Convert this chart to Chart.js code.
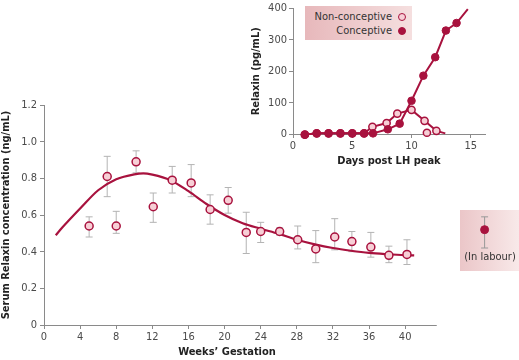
<!DOCTYPE html>
<html>
<head>
<meta charset="utf-8">
<script src="https://cdn.jsdelivr.net/npm/chart.js@4.4.0/dist/chart.umd.min.js"></script>
<style>
  body { margin: 0; background: #fff; }
  .wrap { position: relative; width: 519px; height: 360px; font-family: 'Liberation Sans Narrow', 'DejaVu Sans Condensed', 'Open Sans', sans-serif; color: #333; }
  canvas { position: absolute; }
  .labour-box { position: absolute; left: 460px; top: 210px; width: 59px; height: 61px; background: linear-gradient(to right, #ebc6c8, #f8e9e9); }
  .labour-text { position: absolute; left: 460px; top: 250px; width: 60px; text-align: center; font-size: 11px; }
  .xtitle { position: absolute; left: 167px; top: 345px; width: 120px; text-align: center; font-size: 11px; font-weight: bold; color: #222; }
  .legend { position: absolute; left: 305px; top: 6px; width: 107px; height: 34px; background: linear-gradient(to right, #e7b8bb, #f5dfdf); font-size: 11px; }
  .legend div { position: absolute; right: 6px; height: 14px; line-height: 14px; }
  .dot { display: inline-block; width: 6px; height: 6px; border-radius: 50%; border: 1.5px solid #a8123e; margin-left: 6px; vertical-align: -1px; }
</style>
</head>
<body>
<div class="wrap">
  <div class="labour-box"></div>
  <canvas id="main" width="519" height="360"></canvas>
  <div class="labour-text">(In labour)</div>
  <div class="xtitle">Weeks’ Gestation</div>
  <canvas id="inset" width="271" height="170" style="left:248px;top:0"></canvas>
  <div class="legend">
    <div style="top:4px">Non-conceptive<span class="dot" style="background:#f7cfd6"></span></div>
    <div style="top:18px">Conceptive<span class="dot" style="background:#a8123e"></span></div>
  </div>
</div>
<script>
// main panel: serum relaxin by week of gestation
const weeks = [5, 7, 8, 10.2, 12.1, 14.2, 16.3, 18.4, 20.4, 22.4, 24, 26.1, 28.1, 30.1, 32.2, 34.1, 36.2, 38.2, 40.2];
const relaxin = [0.54, 0.81, 0.54, 0.89, 0.645, 0.79, 0.775, 0.63, 0.68, 0.505, 0.51, 0.51, 0.465, 0.415, 0.48, 0.455, 0.425, 0.38, 0.385];
const errHigh = [0.59, 0.92, 0.62, 0.95, 0.72, 0.865, 0.875, 0.71, 0.75, 0.615, 0.56, 0.53, 0.54, 0.515, 0.58, 0.51, 0.505, 0.43, 0.465];
const errLow = [0.48, 0.70, 0.50, 0.83, 0.56, 0.72, 0.70, 0.55, 0.61, 0.39, 0.45, 0.49, 0.415, 0.34, 0.41, 0.40, 0.37, 0.34, 0.33];
const curveWeeks = [1.3, 2, 4, 6, 8, 10, 11, 12, 14, 16, 18, 20, 22, 24, 26, 28, 30, 32, 34, 36, 38, 40, 41];
const curveValues = [0.49, 0.53, 0.635, 0.735, 0.795, 0.822, 0.827, 0.82, 0.79, 0.73, 0.66, 0.60, 0.555, 0.525, 0.497, 0.465, 0.44, 0.42, 0.405, 0.393, 0.386, 0.381, 0.38];
const labourWeek = [48.8];
const labourValue = [0.52];
const labourHigh = [0.59];
const labourLow = [0.42];
const weekTicks = [0, 4, 8, 12, 16, 20, 24, 28, 32, 36, 40];
const weekAxisEnd = 43.5;

// inset: relaxin after LH peak
const concDays = [1, 2, 3, 4, 5, 6, 6.75, 8, 9, 10, 11, 12, 12.9, 13.8, 14.75];
const concValues = [-2, 2, 2, 2, 2, 2, 2, 15, 33, 106, 186, 245, 330, 354, 398];
const nonDays = [1, 2, 3, 4, 5, 6, 6.7, 7.9, 8.8, 10, 11.1, 12.1, 12.85];
const nonValues = [-2, 2, 2, 2, 2, 2, 23, 35, 65, 77, 42, 10, 2];
const nonExtraDays = [11.3];
const nonExtraValues = [4];

const crimson = '#a8123e';
const pink = '#f7cfd6';
const axisGrey = '#8a8a8a';
const textGrey = '#4a4a4a';

Chart.defaults.font.family = "'Liberation Sans Narrow', 'DejaVu Sans Condensed', 'Open Sans', sans-serif";
Chart.defaults.font.size = 11;
Chart.defaults.color = textGrey;

const pts = (xs, ys) => xs.map((v, i) => ({x: v, y: ys[i]}));

const errorBars = {
  id: 'errorBars',
  beforeDatasetsDraw(chart) {
    const {ctx, scales: {x, y}} = chart;
    chart.data.datasets.forEach(ds => {
      if (!ds.errLow) return;
      ds.data.forEach((p, i) => {
        const px = x.getPixelForValue(p.x);
        const yl = y.getPixelForValue(ds.errLow[i]);
        const yh = y.getPixelForValue(ds.errHigh[i]);
        ctx.save();
        ctx.strokeStyle = ds.errColor;
        ctx.lineWidth = 1;
        ctx.beginPath();
        ctx.moveTo(px, yl); ctx.lineTo(px, yh);
        ctx.moveTo(px - 3.5, yl); ctx.lineTo(px + 3.5, yl);
        ctx.moveTo(px - 3.5, yh); ctx.lineTo(px + 3.5, yh);
        ctx.stroke();
        ctx.restore();
      });
    });
  }
};

// bottom axis line stops short of the labour box
const shortAxis = {
  id: 'shortAxis',
  beforeDatasetsDraw(chart) {
    const {ctx, scales: {x, y}} = chart;
    ctx.save();
    ctx.strokeStyle = axisGrey;
    ctx.lineWidth = 1;
    ctx.beginPath();
    ctx.moveTo(x.getPixelForValue(0) - 4, y.bottom + 0.5);
    ctx.lineTo(x.getPixelForValue(weekAxisEnd), y.bottom + 0.5);
    ctx.stroke();
    ctx.restore();
  }
};

new Chart(document.querySelector('#main'), {
  type: 'scatter',
  data: {
    datasets: [{
      data: pts(weeks, relaxin),
      errLow: errLow, errHigh: errHigh, errColor: '#b4b4b4',
      backgroundColor: pink, borderColor: crimson, borderWidth: 1.5, pointRadius: 4
    }, {
      data: pts(labourWeek, labourValue),
      errLow: labourLow, errHigh: labourHigh, errColor: '#999999',
      backgroundColor: crimson, borderColor: crimson, borderWidth: 1, pointRadius: 4
    }, {
      type: 'line',
      data: pts(curveWeeks, curveValues),
      borderColor: crimson, borderWidth: 2.2, pointRadius: 0,
      cubicInterpolationMode: 'monotone', fill: false
    }]
  },
  options: {
    responsive: false,
    animation: false,
    layout: { padding: { top: 105, right: 0, left: 0, bottom: 0 } },
    plugins: { legend: { display: false }, tooltip: { enabled: false } },
    scales: {
      x: {
        type: 'linear', min: 0, max: 52,
        afterBuildTicks: axis => { axis.ticks = weekTicks.map(v => ({value: v})); },
        afterFit: axis => { axis.height = 35; },
        border: { display: false },
        grid: { drawOnChartArea: false, tickLength: 4, color: axisGrey },
        ticks: { padding: 2, maxRotation: 0 }
      },
      y: {
        min: 0, max: 1.2,
        afterFit: axis => { axis.width = 44; },
        border: { color: axisGrey },
        grid: { drawOnChartArea: false, tickLength: 4, color: axisGrey },
        ticks: { stepSize: 0.2, padding: 3, callback: v => v === 0 ? '0' : v.toFixed(1) },
        title: { display: true, text: 'Serum Relaxin concentration (ng/mL)', font: { weight: 'bold' }, color: '#222', padding: { top: 0, bottom: 0 } }
      }
    }
  },
  plugins: [shortAxis, errorBars]
});

new Chart(document.querySelector('#inset'), {
  type: 'scatter',
  data: {
    datasets: [{
      data: pts(concDays, concValues),
      showLine: true, borderColor: crimson, backgroundColor: crimson, borderWidth: 2,
      pointRadius: c => c.dataIndex === concDays.length - 1 ? 0 : 3.8,
      pointBorderWidth: 1, clip: false
    }, {
      data: pts(nonDays, nonValues),
      showLine: true, borderColor: crimson, backgroundColor: pink, borderWidth: 2,
      pointRadius: c => c.dataIndex === nonDays.length - 1 ? 0 : 3.6,
      pointBorderWidth: 1.5, clip: false
    }, {
      data: pts(nonExtraDays, nonExtraValues),
      borderColor: crimson, backgroundColor: pink, pointRadius: 3.6, pointBorderWidth: 1.5, clip: false
    }]
  },
  options: {
    responsive: false,
    animation: false,
    layout: { padding: { top: 6, right: 34, left: 0, bottom: 0 } },
    plugins: { legend: { display: false }, tooltip: { enabled: false } },
    scales: {
      x: {
        type: 'linear', min: 0, max: 16.2,
        afterBuildTicks: axis => { axis.ticks = [0, 5, 10, 15].map(v => ({value: v})); },
        afterFit: axis => { axis.height = 36; },
        border: { color: axisGrey },
        grid: { drawOnChartArea: false, tickLength: 4, color: axisGrey },
        ticks: { padding: 2, maxRotation: 0 },
        title: { display: true, text: 'Days post LH peak', font: { weight: 'bold' }, color: '#222', padding: { top: 0, bottom: 2 } }
      },
      y: {
        min: 0, max: 400,
        afterFit: axis => { axis.width = 45; },
        border: { color: axisGrey },
        grid: { drawOnChartArea: false, tickLength: 4, color: axisGrey },
        ticks: { stepSize: 100, padding: 2 },
        title: { display: true, text: 'Relaxin (pg/mL)', font: { weight: 'bold' }, color: '#222', padding: { top: 2, bottom: 0 } }
      }
    }
  }
});
</script>
</body>
</html>
